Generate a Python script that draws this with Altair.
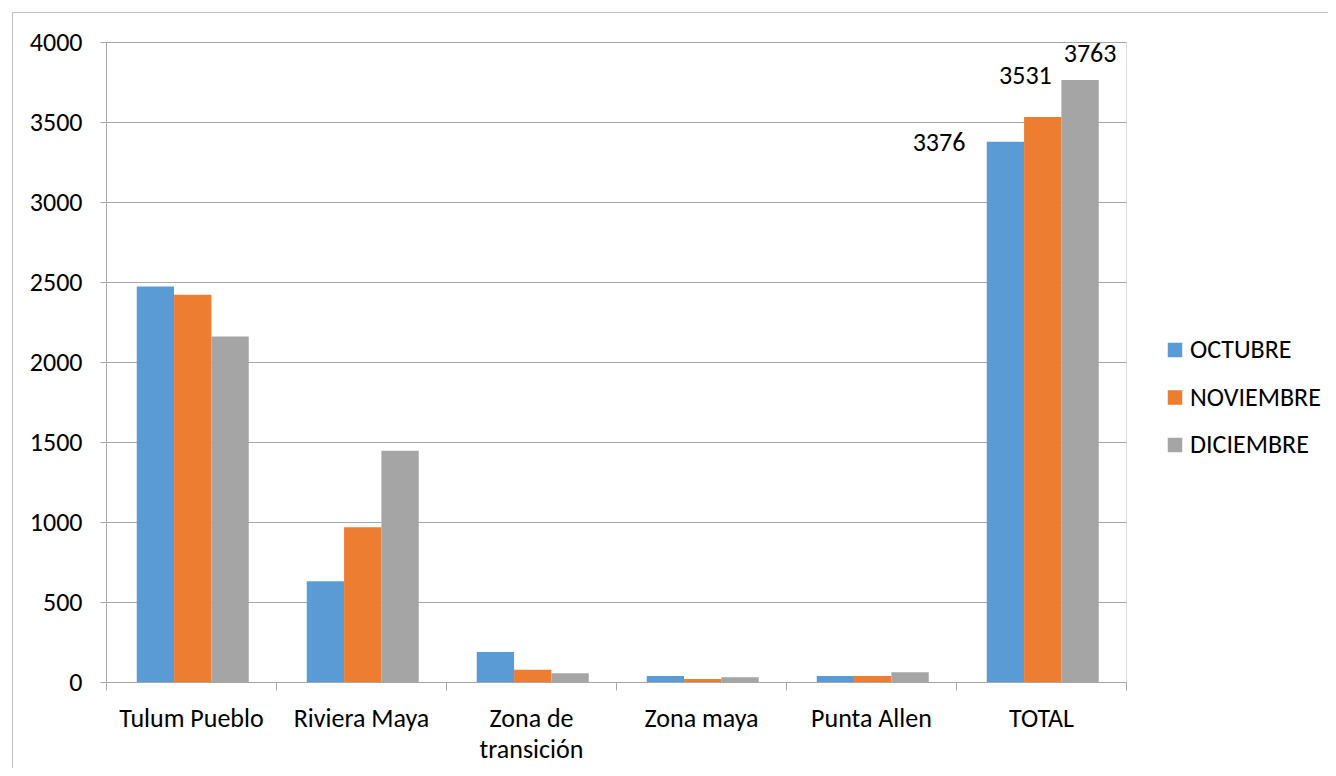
import altair as alt
import pandas as pd

categorias = ["Tulum Pueblo", "Riviera Maya", "Zona de transición", "Zona maya", "Punta Allen", "TOTAL"]
meses = ["OCTUBRE", "NOVIEMBRE", "DICIEMBRE"]
octubre = [2472, 630, 187, 37, 37, 3376]
noviembre = [2420, 967, 77, 19, 37, 3531]
diciembre = [2160, 1446, 54, 29, 61, 3763]
colores = ["#5B9BD5", "#ED7D31", "#A5A5A5"]

rows = []
for mes, serie in zip(meses, [octubre, noviembre, diciembre]):
    for c, v in zip(categorias, serie):
        rows.append({"categoria": c, "mes": mes, "valor": v})
df = pd.DataFrame(rows)

FONT = "Carlito, Calibri, Liberation Sans, Arial, sans-serif"
GRID = "#a6a6a6"
FS = 26

x = alt.X(
    "categoria:N",
    sort=categorias,
    scale=alt.Scale(paddingInner=0, paddingOuter=0),
    axis=alt.Axis(
        title=None,
        labelAngle=0,
        tickBand="extent",
        tickSize=8,
        tickColor=GRID,
        domainColor=GRID,
        labelPadding=15,
        labelFontSize=FS,
        labelFont=FONT,
        labelColor="#000000",
        labelLineHeight=31,
        labelExpr="datum.label == 'Zona de transición' ? ['Zona de', 'transición'] : datum.label",
        grid=False,
    ),
)
xo = alt.XOffset("mes:N", sort=meses, scale=alt.Scale(paddingOuter=0.777, paddingInner=0, align=0.53))
y = alt.Y(
    "valor:Q",
    scale=alt.Scale(domain=[0, 4000], nice=False),
    axis=alt.Axis(
        title=None,
        values=list(range(0, 4001, 500)),
        format="d",
        tickSize=6,
        tickColor=GRID,
        domainColor=GRID,
        gridColor=GRID,
        labelPadding=18,
        labelFontSize=FS,
        labelFont=FONT,
        labelColor="#000000",
    ),
)

bars = alt.Chart(df).mark_bar().encode(
    x=x,
    xOffset=xo,
    y=y,
    color=alt.Color(
        "mes:N",
        sort=meses,
        scale=alt.Scale(domain=meses, range=colores),
        legend=alt.Legend(
            title=None,
            orient="none",
            legendX=1056,
            legendY=295,
            padding=0,
            symbolType="square",
            symbolSize=210,
            symbolStrokeWidth=0,
            labelFontSize=FS,
            labelFont=FONT,
            labelColor="#000000",
            labelOffset=2,
            rowPadding=21.5,
        ),
    ),
)

def etiqueta(mes, align, dx, dy):
    return (
        alt.Chart(df)
        .transform_filter((alt.datum.categoria == "TOTAL") & (alt.datum.mes == mes))
        .mark_text(align=align, baseline="middle", dx=dx, dy=dy, fontSize=FS, font=FONT, color="#000000")
        .encode(x=alt.X("categoria:N", sort=categorias), xOffset=alt.XOffset("mes:N", sort=meses), y="valor:Q", text="valor:Q")
    )

labels = etiqueta("OCTUBRE", "right", -40, 1) + etiqueta("NOVIEMBRE", "right", 9, -41) + etiqueta("DICIEMBRE", "center", 10, -26)

border = alt.Chart(pd.DataFrame({"a": [0]})).mark_rect(fill=None, stroke="#bfbfbf", strokeWidth=1).encode(
    x=alt.value(-93.5), x2=alt.value(3000), y=alt.value(-29.5), y2=alt.value(3000)
)

chart = (
    alt.layer(border, bars, labels)
    .properties(
        width=1020,
        height=640,
        padding={"left": 98, "top": 34, "right": 202, "bottom": 86},
        autosize=alt.AutoSizeParams(type="none"),
    )
    .configure_view(stroke=None)
    .configure(font=FONT)
)

chart.save("out.html", embed_options={"renderer": "svg", "actions": False})
